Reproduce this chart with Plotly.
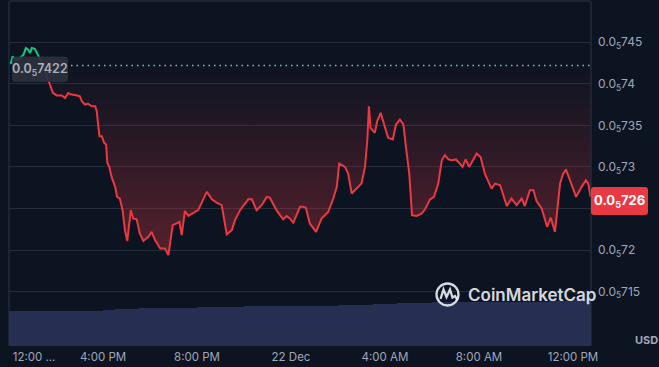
import plotly.graph_objects as go
import pandas as pd

# ---------------- data (price in units of 1e-5 USD, i.e. 0.0₅xxxx) ----------------
start_time = pd.Timestamp("2023-12-21 12:00")
end_minute = 1486

minutes = [3, 5, 9, 18, 28, 37, 43, 49, 54, 58,
           66, 72, 75, 82, 89, 97, 103, 112, 122, 135,
           143, 151, 160, 174, 181, 186, 194, 202, 211, 220,
           224, 228, 231, 237, 243, 248, 251, 256, 262, 271,
           276, 283, 290, 296, 302, 311, 317, 326, 334, 343,
           356, 364, 373, 386, 398, 407, 418, 428, 435, 441,
           449, 458, 471, 483, 505, 518, 530, 543, 556, 569,
           577, 590, 598, 611, 620, 632, 645, 658, 666, 683,
           692, 700, 709, 717, 726, 735, 743, 751, 758, 768,
           784, 798, 815, 828, 837, 843, 858, 866, 875, 883,
           892, 900, 909, 915, 919, 923, 934, 940, 949, 956,
           968, 980, 988, 998, 1007, 1015, 1022, 1029, 1041, 1054,
           1062, 1075, 1085, 1096, 1105, 1113, 1122, 1130, 1141, 1151,
           1158, 1166, 1175, 1194, 1204, 1215, 1232, 1241, 1254, 1271,
           1283, 1296, 1309, 1317, 1330, 1339, 1347, 1360, 1374, 1383,
           1394, 1407, 1415, 1422, 1432, 1448, 1462, 1473, 1479, 1485]

prices = [0.7424, 0.7425, 0.7433, 0.7429, 0.7431, 0.7435, 0.7443, 0.7441, 0.7437, 0.7443,
          0.7442, 0.7436, 0.7434, 0.7427, 0.7419, 0.7410, 0.7401, 0.7389, 0.7386, 0.7386,
          0.7383, 0.7389, 0.7387, 0.7386, 0.7385, 0.7379, 0.7375, 0.7376, 0.7373, 0.7373,
          0.7367, 0.7349, 0.7337, 0.7337, 0.7329, 0.7327, 0.7305, 0.7300, 0.7288, 0.7276,
          0.7264, 0.7262, 0.7248, 0.7224, 0.7211, 0.7248, 0.7238, 0.7237, 0.7220, 0.7211,
          0.7216, 0.7222, 0.7212, 0.7202, 0.7202, 0.7194, 0.7230, 0.7232, 0.7234, 0.7218,
          0.7247, 0.7241, 0.7245, 0.7248, 0.7270, 0.7261, 0.7257, 0.7254, 0.7219, 0.7224,
          0.7236, 0.7248, 0.7253, 0.7261, 0.7261, 0.7248, 0.7254, 0.7264, 0.7263, 0.7248,
          0.7242, 0.7237, 0.7241, 0.7238, 0.7233, 0.7242, 0.7252, 0.7252, 0.7251, 0.7232,
          0.7222, 0.7238, 0.7246, 0.7262, 0.7276, 0.7304, 0.7300, 0.7292, 0.7268, 0.7272,
          0.7276, 0.7280, 0.7300, 0.7333, 0.7373, 0.7347, 0.7341, 0.7355, 0.7365, 0.7353,
          0.7335, 0.7333, 0.7351, 0.7357, 0.7351, 0.7318, 0.7292, 0.7242, 0.7241, 0.7244,
          0.7249, 0.7261, 0.7264, 0.7280, 0.7308, 0.7314, 0.7309, 0.7308, 0.7309, 0.7304,
          0.7300, 0.7309, 0.7300, 0.7316, 0.7312, 0.7292, 0.7274, 0.7280, 0.7278, 0.7253,
          0.7262, 0.7254, 0.7262, 0.7253, 0.7272, 0.7272, 0.7259, 0.7250, 0.7228, 0.7239,
          0.7222, 0.7280, 0.7292, 0.7297, 0.7284, 0.7264, 0.7276, 0.7284, 0.7280, 0.7264]

baseline_price = 0.7422
last_price_label = "0.0<sub>5</sub>726"
baseline_label = "0.0<sub>5</sub>7422"
green_until = 14  # first points above the opening price

vol_minutes = [0, 30, 60, 90, 120, 150, 180, 210, 240, 270,
               300, 330, 360, 390, 420, 450, 480, 510, 540, 570,
               600, 630, 660, 690, 720, 750, 780, 810, 840, 870,
               900, 930, 960, 990, 1020, 1050, 1080, 1110, 1140, 1170,
               1200, 1230, 1260, 1290, 1320, 1350, 1380, 1410, 1440, 1470]
volumes = [10.1, 10.1, 10.1, 10.1, 10.1, 10.1, 10.1, 10.1, 10.5, 10.6,
           10.7, 11.0, 11.0, 11.0, 11.1, 11.1, 11.2, 11.2, 11.3, 11.4,
           11.5, 11.6, 11.6, 11.6, 11.6, 11.7, 11.7, 11.7, 11.8, 11.8,
           11.9, 12.1, 12.3, 12.5, 12.6, 12.6, 12.7, 12.7, 12.7, 12.7,
           12.8, 12.8, 12.8, 12.9, 12.9, 12.9, 13.0, 13.0, 13.2, 13.9]

y_tick_vals = [0.715, 0.72, 0.725, 0.73, 0.735, 0.74, 0.745]
y_tick_text = ["0.0<sub>5</sub>715", "0.0<sub>5</sub>72", "", "0.0<sub>5</sub>73",
               "0.0<sub>5</sub>735", "0.0<sub>5</sub>74", "0.0<sub>5</sub>745"]

x_tick_minutes = [64, 240, 480, 720, 960, 1200, 1440]
x_tick_text = ["12:00 ...", "4:00 PM", "8:00 PM", "22 Dec", "4:00 AM", "8:00 AM", "12:00 PM"]

# ---------------- styling ----------------
BG = "#0d1421"
RED = "#ea3943"
GREEN = "#16c784"
GRID = "#252c3a"
BORDER = "#2c3344"
LABEL = "#a1a7bb"
FONT = "Inter"

W, H = 659, 367
ML, MR, MT, MB = 9, 68, 1, 21
PW, PH = W - ML - MR, H - MT - MB


def px(x):
    return (x - ML) / PW


def py(y):
    return (H - MB - y) / PH


def t(m):
    return start_time + pd.Timedelta(minutes=m)


times = [t(m) for m in minutes]
vol_times = [t(m + 15) for m in vol_minutes]

fig = go.Figure()

# volume bars
fig.add_trace(go.Bar(
    x=vol_times, y=volumes, yaxis="y2",
    width=[30 * 60 * 1000] * len(volumes),
    marker=dict(color="#262f52", line=dict(width=0)),
    hoverinfo="skip", showlegend=False,
))

# baseline for fill (opening price)
fig.add_trace(go.Scatter(
    x=[times[green_until - 1], times[-1]], y=[baseline_price, baseline_price],
    mode="lines", line=dict(width=0, color="rgba(0,0,0,0)"),
    hoverinfo="skip", showlegend=False,
))

# red part with gradient fill to the baseline
fig.add_trace(go.Scatter(
    x=times[green_until - 1:], y=prices[green_until - 1:],
    mode="lines", line=dict(color=RED, width=2),
    fill="tonexty",
    fillgradient=dict(type="vertical",
                      colorscale=[[0, "rgba(234,57,67,0.33)"], [1, "rgba(234,57,67,0.0)"]],
                      start=min(prices), stop=baseline_price),
    hoverinfo="skip", showlegend=False,
))

# green part above opening price
fig.add_trace(go.Scatter(
    x=times[:green_until], y=prices[:green_until],
    mode="lines", line=dict(color=GREEN, width=2),
    hoverinfo="skip", showlegend=False,
))


def rounded_rect(x0, y0, x1, y1, r):
    X0, X1 = px(x0), px(x1)
    Y0, Y1 = py(y0), py(y1)  # y0 top pixel, y1 bottom pixel
    rx, ry = r / PW, r / PH
    return (f"M {X0+rx},{Y0} L {X1-rx},{Y0} Q {X1},{Y0} {X1},{Y0-ry} "
            f"L {X1},{Y1+ry} Q {X1},{Y1} {X1-rx},{Y1} L {X0+rx},{Y1} "
            f"Q {X0},{Y1} {X0},{Y1+ry} L {X0},{Y0-ry} Q {X0},{Y0} {X0+rx},{Y0} Z")


def pts_path(points):
    return "M " + " L ".join(f"{px(a)},{py(b)}" for a, b in points)


shapes = [
    # frame lines
    dict(type="line", xref="paper", yref="paper", x0=0, x1=0, y0=0, y1=1,
         line=dict(color=BORDER, width=1)),
    dict(type="line", xref="paper", yref="paper", x0=0, x1=1, y0=1, y1=1,
         line=dict(color=BORDER, width=1)),
    dict(type="line", xref="paper", yref="paper", x0=1, x1=1, y0=0, y1=1,
         line=dict(color=BORDER, width=1)),
    # dotted opening-price line
    dict(type="line", xref="paper", yref="y", x0=px(60), x1=1,
         y0=baseline_price, y1=baseline_price,
         line=dict(color="#a8aebb", width=1.4, dash="1.5px,4px")),
    # left price badge
    dict(type="path", xref="paper", yref="paper", path=rounded_rect(12, 56.5, 68, 82, 4),
         fillcolor="rgba(44,49,62,0.92)", line=dict(width=0), layer="above"),
    # right last-price badge
    dict(type="path", xref="paper", yref="paper", path=rounded_rect(591, 187, 648, 215, 3),
         fillcolor=RED, line=dict(width=0), layer="above"),
    # CoinMarketCap logo
    dict(type="circle", xref="paper", yref="paper",
         x0=px(436.5), x1=px(458.5), y0=py(305.5), y1=py(283.5),
         line=dict(color="rgba(232,235,241,0.92)", width=2.3), layer="above"),
    dict(type="path", xref="paper", yref="paper",
         path=pts_path([(440.5, 299), (443.5, 289.5), (446.5, 297), (450, 289.5),
                        (452.5, 297.5), (455, 296), (457.5, 300)]),
         line=dict(color="rgba(232,235,241,0.92)", width=2.3), layer="above"),
]

annotations = [
    dict(xref="paper", yref="paper", x=px(40), y=py(69.5), text=baseline_label,
         showarrow=False, font=dict(family=FONT, size=12.5, color="#a9aebb", weight=600),
         xanchor="center", yanchor="middle"),
    dict(xref="paper", yref="paper", x=px(619.5), y=py(201), text=last_price_label,
         showarrow=False, font=dict(family=FONT, size=13, color="#ffffff", weight=700),
         xanchor="center", yanchor="middle"),
    dict(xref="paper", yref="paper", x=px(646), y=py(340), text="USD",
         showarrow=False, font=dict(family=FONT, size=11, color=LABEL, weight=700),
         xanchor="center", yanchor="middle"),
    dict(xref="paper", yref="paper", x=px(466), y=py(295), text="CoinMarketCap",
         showarrow=False, font=dict(family=FONT, size=17, color="rgba(232,235,241,0.92)", weight=600),
         xanchor="left", yanchor="middle"),
]

fig.update_layout(
    width=W, height=H,
    margin=dict(l=ML, r=MR, t=MT, b=MB),
    paper_bgcolor=BG, plot_bgcolor=BG,
    showlegend=False,
    bargap=0,
    font=dict(family=FONT, color=LABEL),
    xaxis=dict(
        type="date", range=[t(0), t(end_minute)],
        tickvals=[t(m) for m in x_tick_minutes], ticktext=x_tick_text,
        showgrid=False, zeroline=False, showline=False, ticks="",
        ticklabelstandoff=2,
        tickfont=dict(family=FONT, size=11.5, color=LABEL),
        fixedrange=True,
    ),
    yaxis=dict(
        range=[0.70846, 0.74996], side="right",
        tickvals=y_tick_vals, ticktext=y_tick_text,
        showgrid=True, gridcolor=GRID, gridwidth=1,
        zeroline=False, showline=False, ticks="",
        ticklabelstandoff=6,
        tickfont=dict(family=FONT, size=12, color=LABEL),
    ),
    yaxis2=dict(range=[0, 100], overlaying="y", visible=False),
    shapes=shapes,
    annotations=annotations,
)

fig.write_html(
    "out.html",
    config={"displayModeBar": False},
    post_script="document.body.style.margin='0';document.body.style.overflow='hidden';"
                "document.body.style.background='" + BG + "';",
)
